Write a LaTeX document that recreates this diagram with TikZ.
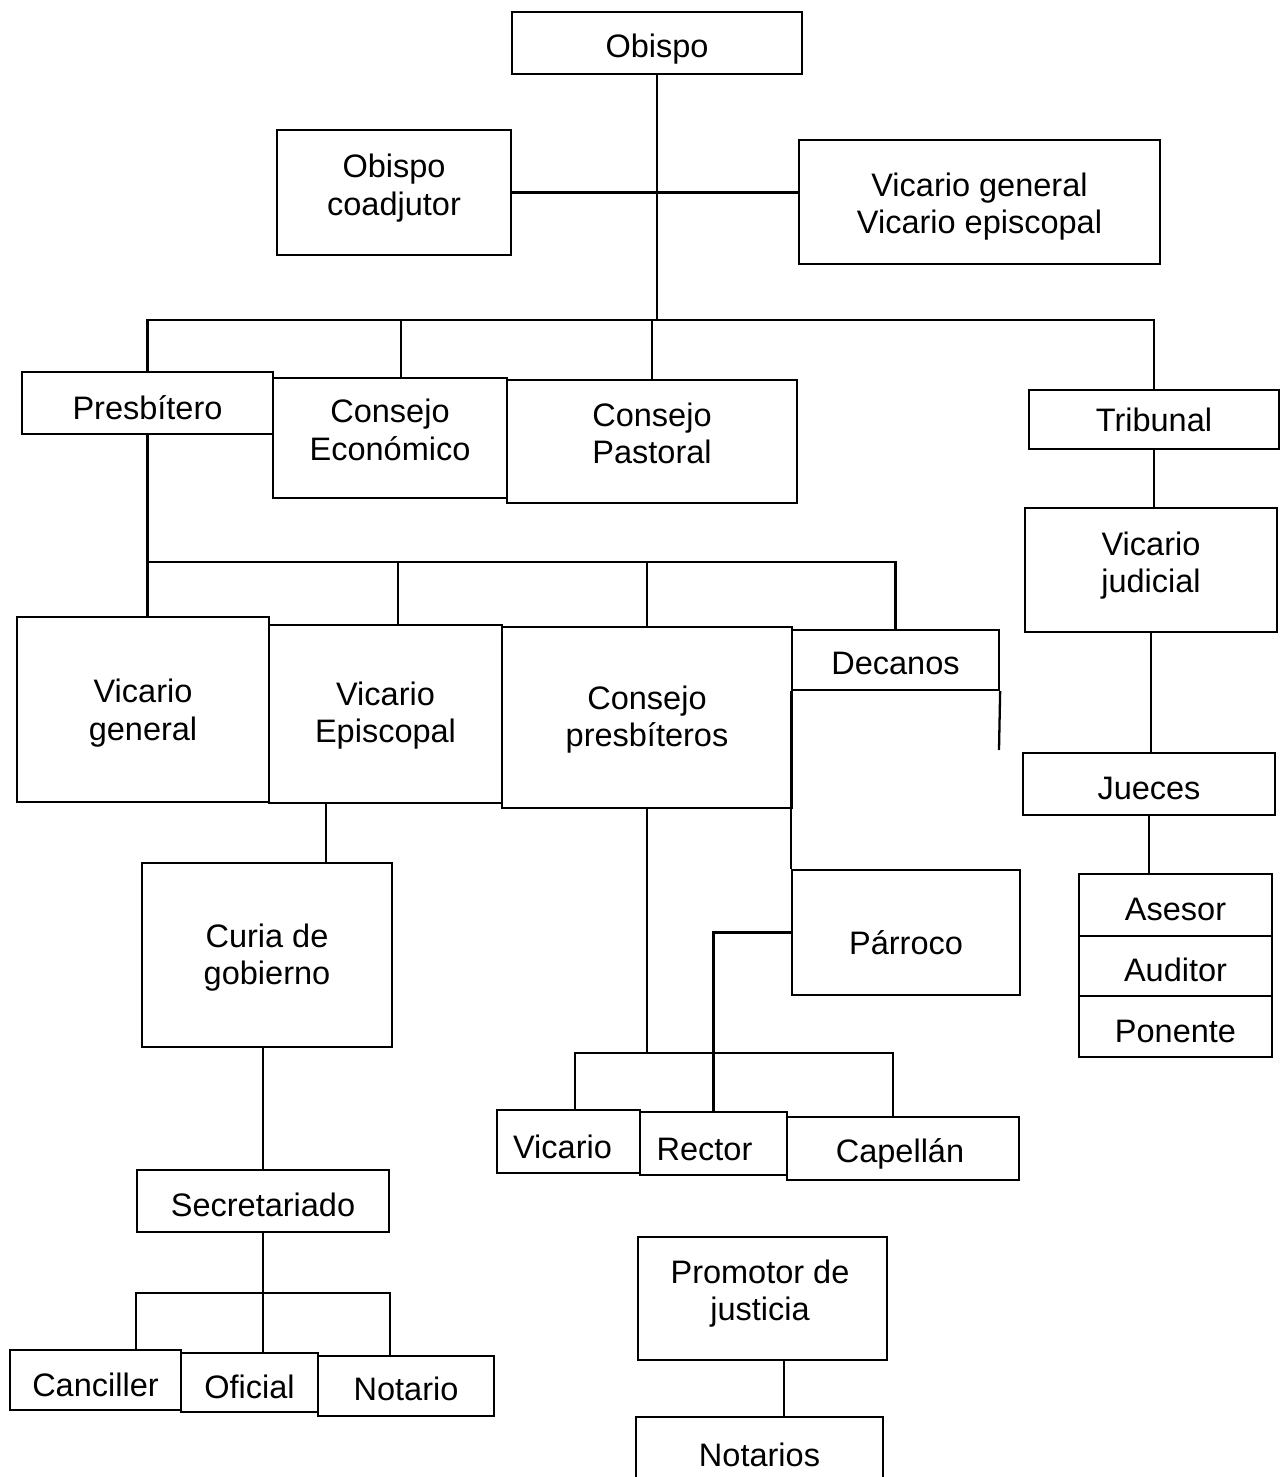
\documentclass[tikz,border=0pt]{standalone}
\usepackage{fontspec}
\setmainfont{Liberation Sans}
\tikzset{
  box/.style={draw, line width=1.3pt, inner sep=0pt, font=\fontsize{18.5}{21.5}\selectfont},
  link/.style={line width=1.3pt},
}
% name, x1, y1, x2, y2, raise, hshift, text
\newcommand\mybox[8]{\node[box, minimum width={(#4-#2)*0.02cm}, minimum height={(#5-#3)*0.02cm}] (#1) at ({(#2+#4)/2},{(#3+#5)/2}) {\hspace*{#7}\raisebox{#6}[\height][\depth]{\begin{tabular}{@{}c@{}}#8\end{tabular}}\hspace*{-#7}};}
\begin{document}
\begin{tikzpicture}[x=0.02cm, y=-0.02cm]
\useasboundingbox (0,0) rectangle (1284,1477);
% boxes
\mybox{obispo}{512}{12}{802}{74}{-0.14cm}{0cm}{Obispo}
\mybox{coad}{277}{130}{511}{255}{0.07cm}{0cm}{Obispo\\coadjutor}
\mybox{vge}{799}{140}{1160}{264}{-0.11cm}{0cm}{Vicario general\\Vicario episcopal}
\mybox{presb}{22}{372}{273}{434}{-0.18cm}{0cm}{Presbítero}
\mybox{econ}{273}{378}{507}{498}{0.08cm}{0cm}{Consejo\\Económico}
\mybox{past}{507}{380}{797}{503}{0.08cm}{0cm}{Consejo\\Pastoral}
\mybox{trib}{1029}{390}{1279}{449}{-0.08cm}{0cm}{Tribunal}
\mybox{vj}{1025}{508}{1277}{632}{0.07cm}{0cm}{Vicario\\judicial}
\mybox{jue}{1023}{753}{1275}{815}{-0.16cm}{0cm}{Jueces}
\mybox{ase}{1079}{874}{1272}{936}{-0.16cm}{0cm}{Asesor}
\mybox{aud}{1079}{936}{1272}{996}{-0.16cm}{0cm}{Auditor}
\mybox{pon}{1079}{996}{1272}{1057}{-0.16cm}{0cm}{Ponente}
\mybox{vg}{17}{617}{269}{802}{-0.09cm}{0cm}{Vicario\\general}
\mybox{ve}{269}{625}{502}{803}{-0.05cm}{0cm}{Vicario\\Episcopal}
\mybox{cp}{502}{627}{792}{808}{-0.06cm}{0cm}{Consejo\\presbíteros}
\mybox{dec}{792}{630}{999}{690}{-0.14cm}{0cm}{Decanos}
\mybox{par}{792}{870}{1020}{995}{-0.28cm}{0cm}{Párroco}
\mybox{curia}{142}{863}{392}{1047}{-0.07cm}{0cm}{Curia de\\gobierno}
\mybox{vic}{497}{1110}{640}{1173}{-0.18cm}{-0.12cm}{Vicario}
\mybox{rec}{640}{1112}{787}{1175}{-0.18cm}{-0.18cm}{Rector}
\mybox{cap}{787}{1117}{1019}{1180}{-0.12cm}{-0.06cm}{Capellán}
\mybox{sec}{137}{1170}{389}{1232}{-0.16cm}{0cm}{Secretariado}
\mybox{can}{10}{1350}{181}{1410}{-0.18cm}{0cm}{Canciller}
\mybox{ofi}{181}{1353}{318}{1412}{-0.16cm}{0cm}{Oficial}
\mybox{nota}{318}{1356}{494}{1416}{-0.14cm}{0cm}{Notario}
\mybox{prom}{638}{1237}{887}{1360}{0.08cm}{-0.05cm}{Promotor de\\justicia}
\node[box, draw=none, minimum width={245*0.02cm}, minimum height={59*0.02cm}] (nots) at (759.5,1447.5) {\raisebox{-0.22cm}[\height][\depth]{\begin{tabular}{@{}c@{}}Notarios\end{tabular}}};
\draw[link] (nots.south west) -- (nots.north west) -- (nots.north east) -- (nots.south east);
% connectors
\coordinate (b1) at (657,320);
\draw[link] (obispo.south) -- (b1);
\draw[link] (coad.east) -- (coad.east -| vge.west);
\draw[link] (presb.north) |- (b1) -| (trib.north);
\draw[link] ([xshift=0.22cm]econ.north) -- ([xshift=0.22cm]econ.north |- b1);
\draw[link] (past.north) -- (past.north |- b1);
\draw[link] (trib.south) -- (trib.south |- vj.north);
\draw[link] (vj.south) -- (vj.south |- jue.north);
\draw[link] (jue.south) -- (jue.south |- ase.north);
\coordinate (b2) at (147.5,562);
\draw[link] (presb.south) -- (presb.south |- vg.north);
\draw[link] (b2) -| (dec.north);
\draw[link] ([xshift=0.25cm]ve.north) -- ([xshift=0.25cm]ve.north |- b2);
\draw[link] (cp.north) -- (cp.north |- b2);
\draw[link] (dec.south west) -- (par.north west);
\coordinate (decend) at (999,750);
\draw[link] (dec.south east) -- (decend);
\coordinate (b3) at (647,1053);
\draw[link] (cp.south) -- (b3);
\draw[link] ([xshift=0.13cm]vic.north) |- (b3) -| ([xshift=-0.2cm]cap.north);
\draw[link] (par.west) -| (rec.north);
\draw[link] ([xshift=1.18cm]curia.north) -- ([xshift=1.18cm]curia.north |- ve.south);
\draw[link] (sec.north) -- (sec.north |- curia.south);
\coordinate (b4) at (263,1293);
\draw[link] (sec.south) -- (sec.south |- ofi.north);
\draw[link] (can.north -| sec.west) |- (b4) -| (nota.north -| sec.east);
\draw[link] ([xshift=0.43cm]prom.south) -- ([xshift=0.43cm]prom.south |- nots.north);
\end{tikzpicture}
\end{document}
